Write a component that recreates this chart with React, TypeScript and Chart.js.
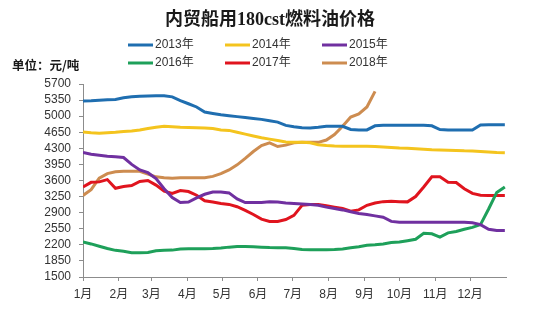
import { useEffect, useRef } from "react";
import { Chart, registerables } from "chart.js";

Chart.register(...registerables);

const titleText = "内贸船用180cst燃料油价格";
const unitText = "单位：元/吨";

const monthLabels = ["1月", "2月", "3月", "4月", "5月", "6月", "7月", "8月", "9月", "10月", "11月", "12月"];
const monthStartDays = [0, 31, 59, 90, 120, 151, 181, 212, 243, 273, 304, 334];

const yTicks = [1500, 1850, 2200, 2550, 2900, 3250, 3600, 3950, 4300, 4650, 5000, 5350, 5700];

// weekly sample days (day of year)
const weekDays = [
  0, 7, 14, 21, 28, 35, 42, 49, 56, 63, 70, 77, 84, 91, 98, 105, 112, 119, 126, 133,
  140, 147, 154, 161, 168, 175, 182, 189, 196, 203, 210, 217, 224, 231, 238, 245, 252,
  259, 266, 273, 280, 287, 294, 301, 308, 315, 322, 329, 336, 343, 350, 357, 364,
];

const seriesNames = ["2013年", "2014年", "2015年", "2016年", "2017年", "2018年"];
const seriesColors = ["#1f6eb0", "#f4c41e", "#7030a0", "#1ea05a", "#e0141e", "#cd8c50"];

const price2013 = [
  5330, 5335, 5345, 5355, 5365, 5400, 5420, 5435, 5440, 5445, 5445, 5420, 5340, 5270, 5200, 5090, 5060, 5030, 5010, 4990,
  4970, 4950, 4930, 4900, 4870, 4800, 4770, 4750, 4745, 4760, 4780, 4780, 4780, 4710, 4700, 4700, 4790,
  4800, 4800, 4800, 4800, 4800, 4800, 4790, 4710, 4700, 4700, 4700, 4700, 4810, 4815, 4815, 4815,
];
const price2014 = [
  4655, 4640, 4630, 4640, 4650, 4665, 4675, 4700, 4730, 4760, 4780, 4770, 4760, 4755, 4750, 4745, 4730, 4700, 4690, 4650,
  4610, 4570, 4530, 4500, 4470, 4440, 4430, 4430, 4420, 4380, 4360, 4350, 4345, 4345, 4345, 4345, 4340,
  4330, 4320, 4305, 4300, 4290, 4280, 4270, 4265, 4260, 4255, 4245, 4240, 4230, 4220, 4210, 4205,
];
const price2015 = [
  4210, 4170, 4150, 4130, 4115, 4100, 3950, 3830, 3770, 3640, 3420, 3230, 3120, 3130, 3220, 3300, 3350, 3350, 3330, 3200,
  3120, 3120, 3120, 3135, 3130, 3110, 3100, 3090, 3080, 3060, 3020, 2990, 2960, 2920, 2880, 2860, 2830,
  2800, 2710, 2690, 2690, 2690, 2690, 2690, 2690, 2690, 2690, 2690, 2680, 2640, 2540, 2510, 2510,
];
const price2016 = [
  2260, 2220, 2170, 2120, 2080, 2060, 2030, 2030, 2035, 2070, 2080, 2085, 2110, 2115, 2115, 2115, 2120, 2130, 2150, 2165,
  2165, 2160, 2150, 2140, 2135, 2135, 2120, 2100, 2095, 2095, 2095, 2100, 2110, 2135, 2160, 2190, 2200,
  2220, 2250, 2260, 2290, 2320, 2450, 2440, 2370, 2460, 2490, 2540, 2580, 2640, 2980, 3340, 3460,
];
const price2017 = [
  3460, 3560, 3570, 3620, 3430, 3470, 3490, 3580, 3600, 3500, 3370, 3320, 3380, 3360, 3280, 3160, 3130, 3100, 3080, 3030,
  2950, 2860, 2760, 2710, 2710, 2750, 2840, 3060, 3080, 3080, 3050, 3020, 2990, 2930, 2960, 3060, 3110,
  3140, 3150, 3140, 3135, 3250, 3460, 3680, 3680, 3560, 3555, 3420, 3320, 3280, 3275, 3275, 3275,
];
const price2018 = [
  3275, 3400, 3650, 3750, 3790, 3800, 3800, 3800, 3740, 3680, 3660, 3650, 3660, 3660, 3660, 3660, 3690, 3750, 3830, 3940,
  4080, 4230, 4360, 4420, 4340, 4370, 4420, 4430, 4430, 4430, 4480, 4600, 4780, 4980, 5050, 5200, 5540,
];

const seriesValues = [price2013, price2014, price2015, price2016, price2017, price2018];

const overlayPlugin = {
  id: "overlayText",
  afterDraw(chart: any) {
    const ctx = chart.ctx as CanvasRenderingContext2D;
    ctx.save();
    // title
    ctx.fillStyle = "#1a1a1a";
    ctx.font = 'bold 18px "Liberation Serif", "Noto Sans CJK SC", serif';
    ctx.textAlign = "center";
    ctx.textBaseline = "middle";
    ctx.fillText(titleText, 270, 20);
    // unit
    ctx.font = 'bold 12.5px "Noto Sans CJK SC", sans-serif';
    ctx.textAlign = "left";
    ctx.fillText(unitText, 12, 65);
    // legend
    const colX = [128, 225, 322];
    const rowY = [45, 63];
    ctx.font = '12px "Liberation Sans", "Noto Sans CJK SC", sans-serif';
    seriesNames.forEach((name, i) => {
      const x = colX[i % 3];
      const y = rowY[Math.floor(i / 3)];
      ctx.strokeStyle = seriesColors[i];
      ctx.lineWidth = 3;
      ctx.beginPath();
      ctx.moveTo(x, y);
      ctx.lineTo(x + 25, y);
      ctx.stroke();
      ctx.fillStyle = "#333333";
      ctx.textAlign = "left";
      ctx.textBaseline = "middle";
      ctx.fillText(name, x + 27, y);
    });
    ctx.restore();
  },
};

export default function App() {
  const ref = useRef<HTMLCanvasElement>(null);
  useEffect(() => {
    if (!ref.current) return;
    const datasets = seriesNames.map((name, i) => ({
      label: name,
      data: seriesValues[i].map((v, k) => ({ x: weekDays[k], y: v })),
      borderColor: seriesColors[i],
      backgroundColor: seriesColors[i],
      borderWidth: 3,
      pointRadius: 0,
      tension: 0,
      fill: false,
    }));
    const chart = new Chart(ref.current, {
      type: "line",
      data: { datasets },
      plugins: [overlayPlugin],
      options: {
        responsive: false,
        animation: false,
        layout: { padding: { top: 84, left: 0, right: 48, bottom: 0 } },
        plugins: {
          legend: { display: false },
          title: { display: false },
          tooltip: { enabled: false },
        },
        scales: {
          x: {
            type: "linear",
            min: 0,
            max: 365,
            afterFit: (scale: any) => {
              scale.height = 47;
            },
            afterBuildTicks: (scale: any) => {
              scale.ticks = monthStartDays.map((d) => ({ value: d }));
            },
            ticks: {
              autoSkip: false,
              maxRotation: 0,
              padding: 6,
              color: "#333333",
              font: { size: 12, family: '"Liberation Sans", "Noto Sans CJK SC", sans-serif' },
              callback: (v: any) => {
                const idx = monthStartDays.indexOf(Number(v));
                return idx >= 0 ? monthLabels[idx] : "";
              },
            },
            grid: { drawOnChartArea: false, drawTicks: true, tickLength: 4, color: "#8c8c8c" },
            border: { display: true, color: "#8c8c8c", width: 1 },
          },
          y: {
            min: 1500,
            max: 5700,
            afterFit: (scale: any) => {
              scale.width = 83;
            },
            afterBuildTicks: (scale: any) => {
              scale.ticks = yTicks.map((v) => ({ value: v }));
            },
            ticks: {
              autoSkip: false,
              padding: 8,
              color: "#333333",
              font: { size: 12, family: '"Liberation Sans", sans-serif' },
              callback: (v: any) => String(v),
            },
            grid: { drawOnChartArea: false, drawTicks: true, tickLength: 4, color: "#8c8c8c" },
            border: { display: true, color: "#8c8c8c", width: 1 },
          },
        },
      },
    });
    return () => chart.destroy();
  }, []);
  return (
    <div style={{ position: "absolute", left: 0, top: 0, width: 554, height: 324, background: "#ffffff" }}>
      <canvas ref={ref} width={554} height={324} style={{ width: 554, height: 324 }} />
    </div>
  );
}
